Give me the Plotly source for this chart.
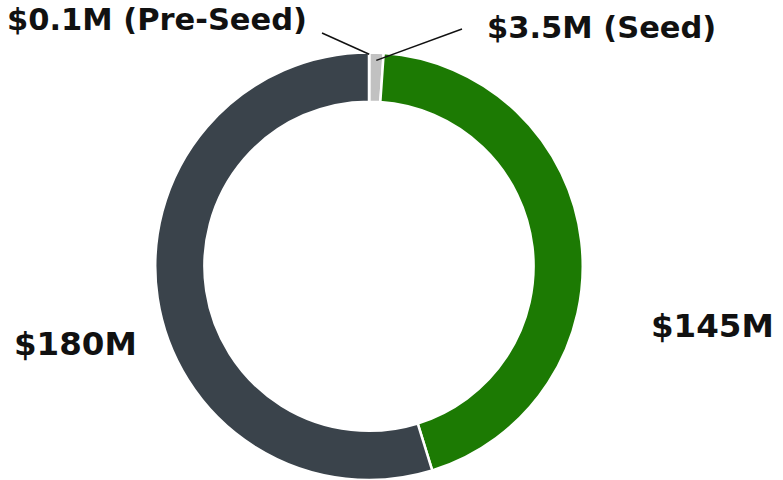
import math
import plotly.graph_objects as go

# Data
rounds = ["Pre-Seed", "Seed", "Series A", "Series B"]
amounts = [0.1, 3.5, 145, 180]  # $M
label_texts = ["$0.1M (Pre-Seed)", "$3.5M (Seed)", "$145M", "$180M"]
colors = ["#9aa0a6", "#c1c1c1", "#1c7a03", "#3a434b"]

W, H = 783, 480
cx, cy, R = 369, 266.25, 213.75

fig = go.Figure(go.Pie(
    labels=rounds,
    values=amounts,
    sort=False,
    direction="clockwise",
    rotation=0,
    hole=0.77,
    marker=dict(colors=colors, line=dict(color="white", width=2.5)),
    textinfo="none",
    hoverinfo="label+value",
    domain=dict(x=[(cx - R) / W, (cx + R) / W], y=[0, 1 - (cy - R) / H]),
    showlegend=False,
))

# label positions (pixel centres) and sizes
label_pos = [(157, 20), (601, 27), (712, 326), (75, 344)]
label_size = [30.5, 30.5, 32.5, 32.5]
for t, (px, py), s in zip(label_texts, label_pos, label_size):
    fig.add_annotation(x=px / W, y=1 - py / H, xref="paper", yref="paper",
                       text=t, showarrow=False,
                       font=dict(family="DejaVu Sans", size=s, color="#111111", weight=700),
                       xanchor="center", yanchor="middle")

# leader lines for the two small slices, endpoints from slice mid-angles
total = sum(amounts)
cum = 0
mids = []
for v in amounts:
    mids.append((cum + v / 2) / total * 2 * math.pi)
    cum += v
leaders = [(0, 212, (322, 33)), (1, 206, (462, 29))]
for idx, r, (sx, sy) in leaders:
    a = mids[idx]
    ex = cx + r * math.sin(a)
    ey = cy - r * math.cos(a)
    fig.add_shape(type="line", xref="paper", yref="paper",
                  x0=sx / W, y0=1 - sy / H, x1=ex / W, y1=1 - ey / H,
                  line=dict(color="#111111", width=1.5))

fig.update_layout(
    width=W, height=H,
    margin=dict(l=0, r=0, t=0, b=0),
    paper_bgcolor="white", plot_bgcolor="white",
)
fig.write_html("out.html", config={"displayModeBar": False},
               post_script="document.body.style.margin='0';")
